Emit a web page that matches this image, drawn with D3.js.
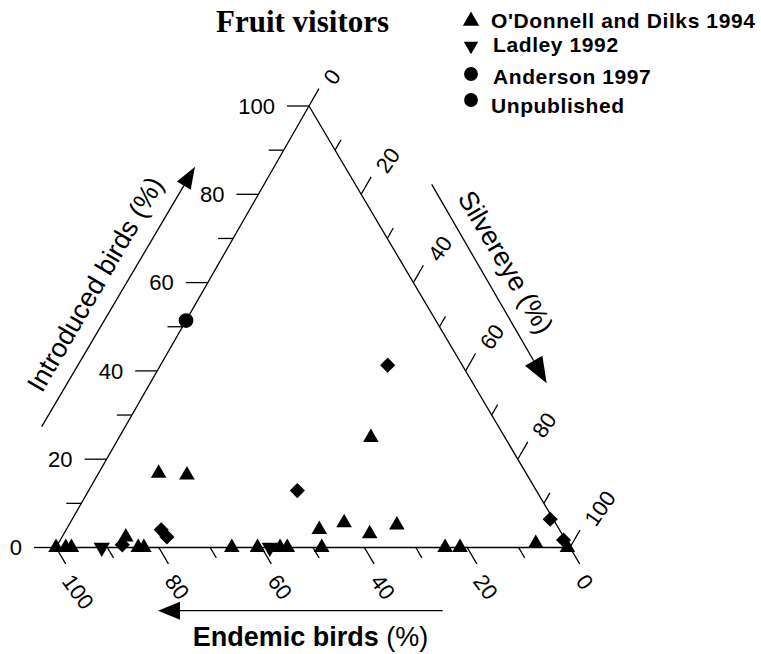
<!DOCTYPE html>
<html><head><meta charset="utf-8">
<script src="https://cdn.jsdelivr.net/npm/d3@7"></script>
<style>html,body{margin:0;padding:0;background:#fff;} svg{display:block;}</style>
</head><body>
<script>
// ---------------- DATA ----------------
const seriesNames = ["O'Donnell and Dilks 1994", "Ladley 1992", "Anderson 1997", "Unpublished"];

// O'Donnell and Dilks 1994 (triangles) — percentages
const odEndemic    = [71.5, 66.2, 26.1, 46.7, 41.1, 37.4, 31.1, 85.2, 6.2, 100, 98.1, 97.0, 84.0, 82.9, 65.8, 60.8, 56.4, 55.0, 48.3, 24.3, 21.4, 0.5];
const odSilvereye  = [11.7, 17.4, 49.0, 49.2, 53.3, 59.5, 63.8, 12.4, 92.9, 0, 1.9, 3.0, 16.0, 17.1, 34.2, 39.2, 43.6, 45.0, 51.7, 75.7, 78.6, 99.5];
const odIntroduced = [16.8, 16.4, 24.9, 4.1, 5.6, 3.1, 5.1, 2.4, 0.9, 0, 0, 0, 0, 0, 0, 0, 0, 0, 0, 0, 0, 0];

// Ladley 1992 (inverted triangles)
const ladEndemic    = [91.1, 58.4];
const ladSilvereye  = [8.9, 41.6];
const ladIntroduced = [0, 0];

// Anderson 1997 (circle)
const andEndemic    = [48.6];
const andSilvereye  = [0];
const andIntroduced = [51.4];

// Unpublished (diamonds)
const unpEndemic    = [14.5, 46.5, 86.8, 77.5, 77.2, 0.6, 0.4];
const unpSilvereye  = [44.2, 40.6, 12.6, 18.5, 20.4, 93.0, 97.9];
const unpIntroduced = [41.3, 12.9, 0.6, 4.0, 2.4, 6.4, 1.7];

const tickValues = [0, 10, 20, 30, 40, 50, 60, 70, 80, 90, 100];
const labelValues = [0, 20, 40, 60, 80, 100];

// ---------------- LAYOUT ----------------
const W = 761, H = 654;
const svg = d3.select("body").append("svg").attr("width", W).attr("height", H);
const SANS = "'Liberation Sans', Arial, Helvetica, sans-serif";
const SERIF = "'Liberation Serif', 'Times New Roman', serif";

// ternary scales: introduced -> vertical, silvereye -> horizontal along base, introduced shift
const iY = d3.scaleLinear().domain([0, 100]).range([547.5, 106]);
const iX = d3.scaleLinear().domain([0, 100]).range([0, 253]);
const sX = d3.scaleLinear().domain([0, 100]).range([56, 570]);
function proj(e, s, i) {
  const t = e + s + i;
  const sn = s / t * 100, inn = i / t * 100;
  return [sX(sn) + iX(inn), iY(inn)];
}
const pA = proj(100, 0, 0), pB = proj(0, 100, 0), pC = proj(0, 0, 100);
function unit(v) { const l = Math.hypot(v[0], v[1]); return [v[0] / l, v[1] / l]; }
const dirRight = unit([pC[0] - pA[0], pC[1] - pA[1]]);   // up-right, parallel to left edge
const dirBottom = unit([pB[0] - pC[0], pB[1] - pC[1]]);  // down-right, parallel to right edge

const g = svg.append("g");
const stroke = "#000";

// triangle frame
g.append("path")
  .attr("d", d3.line()([pA, pB, pC]) + "Z")
  .attr("fill", "none").attr("stroke", stroke).attr("stroke-width", 1.3);

// ticks
tickValues.forEach(t => {
  const major = t % 20 === 0;
  // left (introduced)
  let p = proj(100 - t, 0, t);
  g.append("line").attr("x1", p[0]).attr("y1", p[1]).attr("x2", p[0] - (major ? 22 : 15)).attr("y2", p[1])
    .attr("stroke", stroke).attr("stroke-width", 1.3);
  // right (silvereye)
  p = proj(0, t, 100 - t);
  let L = major ? 20 : 12;
  g.append("line").attr("x1", p[0]).attr("y1", p[1]).attr("x2", p[0] + dirRight[0] * L).attr("y2", p[1] + dirRight[1] * L)
    .attr("stroke", stroke).attr("stroke-width", 1.3);
  // bottom (endemic)
  p = proj(t, 100 - t, 0);
  L = major ? 19 : 12;
  g.append("line").attr("x1", p[0]).attr("y1", p[1]).attr("x2", p[0] + dirBottom[0] * L).attr("y2", p[1] + dirBottom[1] * L)
    .attr("stroke", stroke).attr("stroke-width", 1.3);
});

// tick labels
labelValues.forEach(t => {
  let p = proj(100 - t, 0, t);
  g.append("text").attr("x", p[0] - 34).attr("y", p[1]).attr("dy", "0.35em")
    .attr("text-anchor", "end").attr("font-family", SANS).attr("font-size", 22).text(t);
  p = proj(0, t, 100 - t);
  let bx = p[0] + dirRight[0] * 26 + 6.5, by = p[1] + dirRight[1] * 26 - 1.5;
  g.append("text").attr("transform", `translate(${bx},${by}) rotate(-55)`).attr("dy", "0.35em")
    .attr("text-anchor", "start").attr("font-family", SANS).attr("font-size", 22).text(t);
  p = proj(t, 100 - t, 0);
  bx = p[0] + dirBottom[0] * 32 - 5; by = p[1] + dirBottom[1] * 32 + 2;
  g.append("text").attr("transform", `translate(${bx},${by}) rotate(54)`).attr("dy", "0.35em")
    .attr("text-anchor", "start").attr("font-family", SANS).attr("font-size", 22).text(t);
});

// arrows
function arrow(x1, y1, x2, y2, hl, hw) {
  const d = unit([x2 - x1, y2 - y1]);
  const bx = x2 - d[0] * hl, by = y2 - d[1] * hl;
  const n = [-d[1], d[0]];
  g.append("line").attr("x1", x1).attr("y1", y1).attr("x2", bx).attr("y2", by)
    .attr("stroke", stroke).attr("stroke-width", 1.3);
  g.append("path").attr("d", d3.line()([[x2, y2], [bx + n[0] * hw, by + n[1] * hw], [bx - n[0] * hw, by - n[1] * hw]]) + "Z")
    .attr("fill", stroke);
}
arrow(41.7, 426.7, 195, 166.7, 22, 8);
arrow(431.7, 184.3, 546.7, 383.3, 26, 10);
arrow(442.7, 610.7, 158, 610.7, 22, 9);

// axis titles
g.append("text").attr("transform", "translate(95,284) rotate(-59.8)").attr("dy", "0.35em")
  .attr("text-anchor", "middle").attr("font-family", SANS).attr("font-size", 27).text("Introduced birds (%)");
g.append("text").attr("transform", "translate(506,262) rotate(59.5)").attr("dy", "0.35em")
  .attr("text-anchor", "middle").attr("font-family", SANS).attr("font-size", 27).text("Silvereye (%)");
const et = g.append("text").attr("x", 310.5).attr("y", 646).attr("text-anchor", "middle")
  .attr("font-family", SANS).attr("font-size", 27);
et.append("tspan").attr("font-weight", "bold").text("Endemic birds");
et.append("tspan").text(" (%)");

// title
g.append("text").attr("x", 216).attr("y", 32).attr("font-family", SERIF).attr("font-weight", "bold")
  .attr("font-size", 31).text("Fruit visitors");

// data points
const sets = [
  { e: odEndemic, s: odSilvereye, i: odIntroduced, type: d3.symbolTriangle, size: 105, rot: 0 },
  { e: ladEndemic, s: ladSilvereye, i: ladIntroduced, type: d3.symbolTriangle, size: 115, rot: 180 },
  { e: andEndemic, s: andSilvereye, i: andIntroduced, type: d3.symbolCircle, size: 170, rot: 0 },
  { e: unpEndemic, s: unpSilvereye, i: unpIntroduced, type: d3.symbolSquare, size: 115, rot: 45 }
];
sets.forEach(set => {
  const pts = set.e.map((ev, k) => proj(ev, set.s[k], set.i[k]));
  g.selectAll(null).data(pts).enter().append("path")
    .attr("d", d3.symbol().type(set.type).size(set.size)())
    .attr("transform", d => `translate(${d[0]},${d[1]}) rotate(${set.rot})`)
    .attr("fill", stroke);
});

// legend
const legY = [28, 51.5, 84, 113];
const legSymY = [21, 46, 74, 100];
const legTextX = [491, 493, 493, 491];
const legSym = [
  { type: d3.symbolTriangle, size: 115, rot: 0 },
  { type: d3.symbolTriangle, size: 90, rot: 180 },
  { type: d3.symbolCircle, size: 150, rot: 0 },
  { type: d3.symbolCircle, size: 150, rot: 0 }
];
seriesNames.forEach((name, k) => {
  g.append("path").attr("d", d3.symbol().type(legSym[k].type).size(legSym[k].size)())
    .attr("transform", `translate(471,${legSymY[k]}) rotate(${legSym[k].rot})`).attr("fill", stroke);
  g.append("text").attr("x", legTextX[k]).attr("y", legY[k]).attr("font-family", SANS)
    .attr("font-weight", "bold").attr("font-size", 21).attr("letter-spacing", 0.6).text(name);
});
</script>
</body></html>
